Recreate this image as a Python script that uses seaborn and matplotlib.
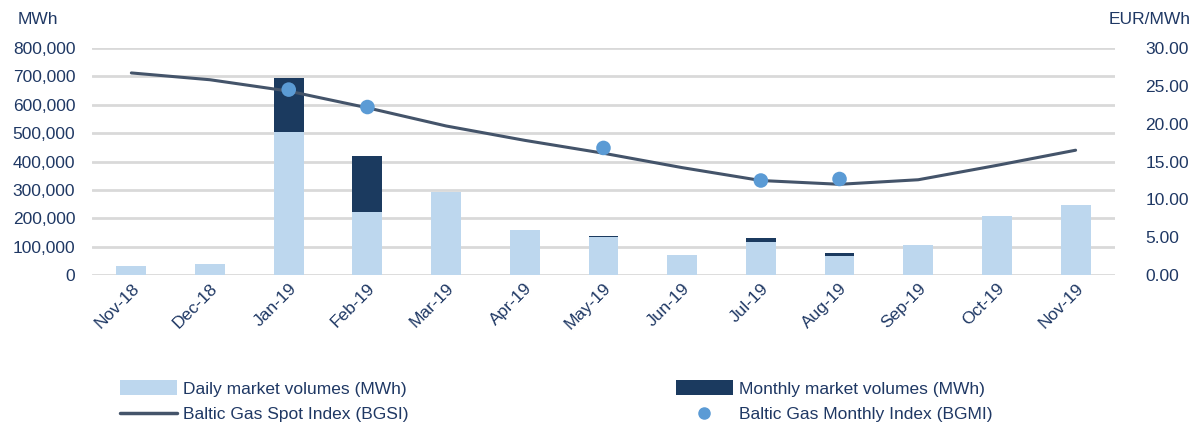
import matplotlib.pyplot as plt
import seaborn as sns
import numpy as np
import pandas as pd
from matplotlib.lines import Line2D
from matplotlib.patches import Patch
from matplotlib.ticker import FuncFormatter

months = ["Nov-18", "Dec-18", "Jan-19", "Feb-19", "Mar-19", "Apr-19", "May-19",
          "Jun-19", "Jul-19", "Aug-19", "Sep-19", "Oct-19", "Nov-19"]
daily_mwh = [32000, 39000, 503000, 222000, 292000, 158000, 136000,
             70000, 117000, 68000, 106000, 208000, 247000]
monthly_mwh = [0, 0, 190000, 199000, 0, 0, 3000, 0, 13000, 10000, 0, 0, 0]
bgsi = [26.7, 25.8, 24.3, 22.1, 19.7, 17.8, 16.1, 14.2, 12.5, 12.0, 12.6, 14.5, 16.5]
bgmi = [np.nan, np.nan, 24.5, 22.2, np.nan, np.nan, 16.8, np.nan, 12.5, 12.7,
        np.nan, np.nan, np.nan]

LIGHT = "#BDD7EE"
DARK = "#1B3A5F"
LINE = "#44546A"
DOT = "#5B9BD5"
TXT = "#1F3864"

sns.set_style("white")
plt.rcParams['font.family'] = ['Liberation Sans', 'DejaVu Sans']

df = pd.DataFrame({"month": months, "daily": daily_mwh, "monthly": monthly_mwh})
df["total"] = df["daily"] + df["monthly"]

fig = plt.figure(figsize=(11.95, 4.28), dpi=100)
ax = fig.add_axes([0.077, 0.357, 0.856, 0.531])

# grid first so bars sit on top
ax.set_axisbelow(True)
ax.yaxis.grid(True, color="#D9D9D9", lw=2)

# stacked look: total in dark, daily drawn over it in light
sns.barplot(data=df, x="month", y="total", color=DARK, width=0.38,
            saturation=1, linewidth=0, edgecolor="none", ax=ax)
sns.barplot(data=df, x="month", y="daily", color=LIGHT, width=0.38,
            saturation=1, linewidth=0, edgecolor="none", ax=ax)

ax.set_ylim(0, 800000)
ax.set_xlim(-0.5, 12.5)
ax.set_yticks(np.arange(0, 800001, 100000))
ax.yaxis.set_major_formatter(FuncFormatter(lambda v, p: f"{int(v):,}"))
ax.set_xlabel("")
ax.set_ylabel("")
ax.tick_params(axis="y", length=0, pad=12, labelsize=12.5, labelcolor=TXT)
ax.tick_params(axis="x", length=0, pad=4, labelsize=12.5, labelcolor=TXT)
plt.setp(ax.get_xticklabels(), rotation=45, ha="right", rotation_mode="anchor")
sns.despine(ax=ax, left=True, bottom=True)

ax2 = ax.twinx()
sns.lineplot(x=np.arange(len(months)), y=bgsi, color=LINE, lw=2.2, ax=ax2)
sns.scatterplot(x=np.arange(len(months)), y=bgmi, color=DOT, s=110,
                edgecolor="none", ax=ax2, zorder=5)
ax2.set_ylim(0, 30)
ax2.set_yticks(np.arange(0, 30.1, 5))
ax2.yaxis.set_major_formatter(FuncFormatter(lambda v, p: f"{v:.2f}"))
ax2.tick_params(axis="y", length=0, pad=22, labelsize=12.5, labelcolor=TXT)
for lab in ax2.get_yticklabels():
    lab.set_ha("left")
sns.despine(ax=ax2, left=True, bottom=True, right=True)

fig.text(0.015, 0.955, "MWh", fontsize=12.5, color=TXT, va="center")
fig.text(0.996, 0.955, "EUR/MWh", fontsize=12.5, color=TXT, va="center", ha="right")

handles = [
    Patch(facecolor=LIGHT, edgecolor="none"),
    Line2D([0], [0], color=LINE, lw=2.5),
    Patch(facecolor=DARK, edgecolor="none"),
    Line2D([0], [0], color=DOT, marker="o", ls="none", markersize=8),
]
labels = ["Daily market volumes (MWh)", "Baltic Gas Spot Index (BGSI)",
          "Monthly market volumes (MWh)", "Baltic Gas Monthly Index (BGMI)"]
fig.legend(handles, labels, ncol=2, loc="center left",
           bbox_to_anchor=(0.087, 0.062), frameon=False, fontsize=12.5,
           labelcolor=TXT, handlelength=3.3, handleheight=0.9,
           handletextpad=0.35, columnspacing=15.4, labelspacing=0.55)

fig.savefig("out.png", dpi=100)
